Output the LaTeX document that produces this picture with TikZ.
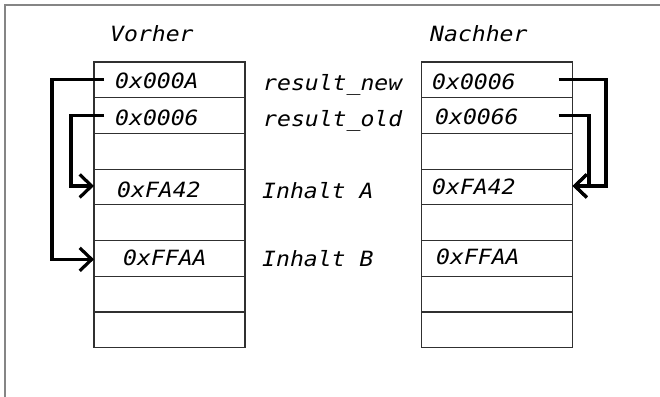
\documentclass[tikz,border=0pt]{standalone}
\usepackage{fontspec}
\setmonofont[FakeStretch=1.1]{DejaVu Sans Mono}
\usetikzlibrary{arrows.meta,calc}
\definecolor{framegray}{HTML}{858585}
\definecolor{cellline}{HTML}{303030}
\tikzset{
  cell/.style={rectangle, inner sep=0pt, outer sep=0pt,
    minimum width=151pt, minimum height=35.7pt, anchor=north},
  grid/.style={draw=cellline, line width=1.2pt},
  txt/.style={font=\fontsize{21}{21}\selectfont\ttfamily\itshape, inner sep=0pt,
    text height=0.73em, text depth=0pt, anchor=west},
  ptr/.style={line width=3.2pt, -{Straight Barb[length=12pt,width=23pt]}}
}
\begin{document}
\begin{tikzpicture}[x=1pt,y=-1pt]
  \useasboundingbox (0,0) rectangle (660,396);
  \clip (0,0) rectangle (660,396);
  \fill[white] (0,0) rectangle (660,396);
  % outer frame
  \draw[framegray, line width=2.2pt] (5,402) -- (5,5) -- (666,5);

  % memory columns: eight cells each
  \node[cell] (L1) at (169.5,62) {};
  \node[cell] (R1) at (497,62) {};
  \foreach \i [evaluate=\i as \j using int(\i+1)] in {1,...,7} {
    \node[cell] (L\j) at (L\i.south) {};
    \node[cell] (R\j) at (R\i.south) {};
  }
  \draw[grid] (L1.north west) rectangle (L8.south east);
  \draw[grid] (R1.north west) rectangle (R8.south east);
  \foreach \i in {1,...,7} {
    \draw[grid] (L\i.south west) -- (L\i.south east);
    \draw[grid] (R\i.south west) -- (R\i.south east);
  }

  % headings
  \node[txt] (hv) at (110,37.5) {Vorher};
  \node[txt] (hn) at (430,37.5) {Nachher};

  % contents before
  \node[txt] (lv1) at (115,85) {0x000A};
  \node[txt] (lv2) at (115,122) {0x0006};
  \node[txt] (lv4) at (117,194) {0xFA42};
  \node[txt] (lv6) at (123,261.5) {0xFFAA};

  % variable names
  \node[txt] (n1) at (263,87) {result\_new};
  \node[txt] (n2) at (263,122.5) {result\_old};
  \node[txt] (n4) at (262,195) {Inhalt A};
  \node[txt] (n6) at (262,263) {Inhalt B};

  % contents after
  \node[txt] (rv1) at (432,86) {0x0006};
  \node[txt] (rv2) at (435,121) {0x0066};
  \node[txt] (rv4) at (432,190.5) {0xFA42};
  \node[txt] (rv6) at (436,261) {0xFFAA};

  % pointers before
  \coordinate (s1) at ([xshift=10pt]L1.west);
  \coordinate (s2) at ([xshift=10pt]L2.west);
  \draw[ptr] (s1) -- (52,0 |- s1) |- ([yshift=-1pt]L6.west);
  \draw[ptr] (s2) -- (71,0 |- s2) |- ([yshift=1pt]L4.west);

  % pointers after
  \coordinate (t1) at ([xshift=-14pt]R1.east);
  \coordinate (t2) at ([xshift=-14pt]R2.east);
  \draw[ptr] (t1) -- (606,0 |- t1) |- ([yshift=1pt]R4.east);
  \draw[ptr] (t2) -- (589,0 |- t2) |- ([yshift=1pt]R4.east);
\end{tikzpicture}
\end{document}
